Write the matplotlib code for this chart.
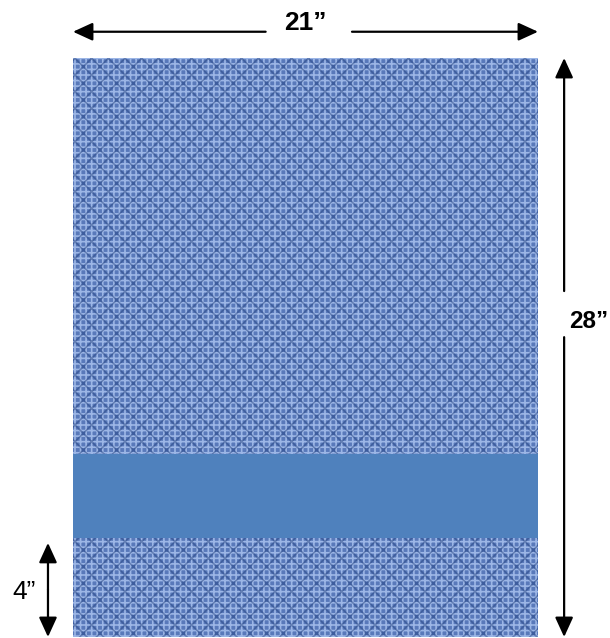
import matplotlib
matplotlib.use("Agg")
import matplotlib.pyplot as plt
from matplotlib.patches import Rectangle

# ==============================================================
# Panel dimensions (inches)
# ==============================================================
panel_width = 21
panel_height = 28
band_bottom = 4.8
band_top = 8.85
dim_labels = ["21\u201d", "28\u201d", "4\u201d"]
dim_spans = [(0, 21), (0, 28), (0, 4.55)]

# colours
FABRIC = "#5979ba"
FABRIC_LIGHT = "#a9c2ee"
FABRIC_DARK = "#1f3d7a"
BAND = "#4f81bd"

plt.rcParams['font.family'] = ['Liberation Sans', 'DejaVu Sans']
plt.rcParams['hatch.linewidth'] = 1.2

fig = plt.figure(figsize=(6.10, 6.38), dpi=100)
ax = fig.add_axes([73 / 610, 1 / 638, 465 / 610, 579 / 638])
ax.set_xlim(0, panel_width)
ax.set_ylim(0, panel_height)
ax.axis('off')

# fabric texture: base fill + light weave + dark weave
ax.add_patch(Rectangle((0, 0), panel_width, panel_height, facecolor=FABRIC,
                       edgecolor='none'))
ax.add_patch(Rectangle((0, 0), panel_width, panel_height, facecolor='none',
                       hatch='+++', edgecolor=FABRIC_LIGHT, linewidth=0,
                       alpha=0.85))
ax.add_patch(Rectangle((0, 0), panel_width, panel_height, facecolor='none',
                       hatch='xx', edgecolor=FABRIC_DARK, linewidth=0,
                       alpha=0.45))

# solid band
ax.add_patch(Rectangle((0, band_bottom), panel_width, band_top - band_bottom,
                       facecolor=BAND, edgecolor='none'))

arrow = dict(arrowstyle='-|>,head_length=1.2,head_width=0.55', lw=1.6,
             color='black', shrinkA=0, shrinkB=0, mutation_scale=10)


def draw_arrow(start, tip):
    ax.annotate('', xy=tip, xytext=start, arrowprops=arrow,
                annotation_clip=False)


# width (top): gap left for the label
top_y = panel_height + 1.27
draw_arrow((8.7, top_y), (dim_spans[0][0], top_y))
draw_arrow((12.6, top_y), (dim_spans[0][1], top_y))
ax.text(10.5, panel_height + 1.7, dim_labels[0], ha='center', va='center',
        fontsize=19, fontweight='bold', clip_on=False)

# height (right)
right_x = panel_width + 1.18
draw_arrow((right_x, 14.5), (right_x, dim_spans[1][0]))
draw_arrow((right_x, 16.73), (right_x, dim_spans[1][1]))
ax.text(panel_width + 3.17, 15.25, dim_labels[1], ha='right', va='center',
        fontsize=17.5, fontweight='bold', clip_on=False)

# band offset (left)
left_x = -1.13
draw_arrow((left_x, 2.3), (left_x, dim_spans[2][0]))
draw_arrow((left_x, 2.3), (left_x, dim_spans[2][1]))
ax.text(-2.2, 2.2, dim_labels[2], ha='center', va='center', fontsize=19,
        clip_on=False)

fig.savefig("out.png", dpi=100)
